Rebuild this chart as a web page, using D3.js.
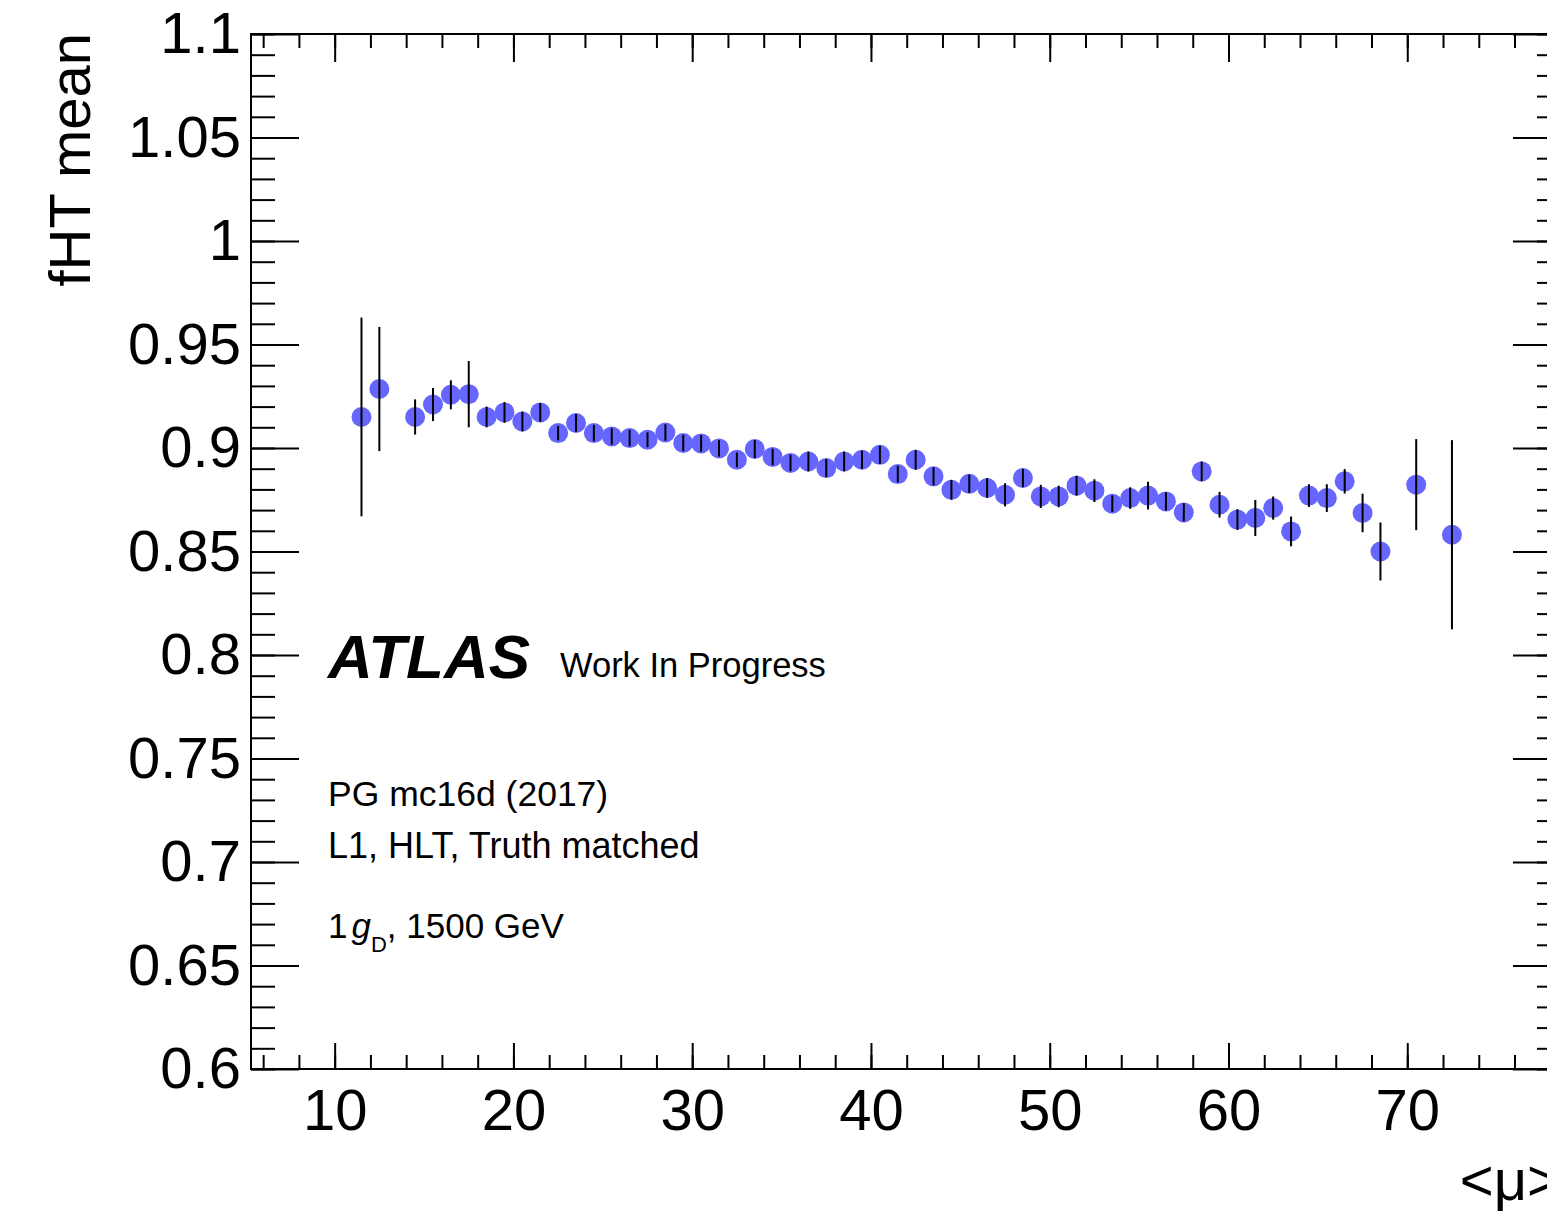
<!DOCTYPE html>
<html>
<head>
<meta charset="utf-8">
<script src="https://cdn.jsdelivr.net/npm/d3@7"></script>
<style>
  body { margin: 0; background: #fff; }
  text { font-family: "Liberation Sans", Arial, Helvetica, sans-serif; }
</style>
</head>
<body>
<div id="chart"></div>
<script>
// <mu> bin centres
var mu = [11.5, 12.5,
  14.5, 15.5, 16.5, 17.5, 18.5,
  19.5, 20.5, 21.5, 22.5, 23.5, 24.5, 25.5, 26.5, 27.5, 28.5,
  29.5, 30.5, 31.5, 32.5, 33.5, 34.5, 35.5, 36.5, 37.5, 38.5,
  39.5, 40.5, 41.5, 42.5, 43.5, 44.5, 45.5, 46.5, 47.5, 48.5,
  49.5, 50.5, 51.5, 52.5, 53.5, 54.5, 55.5, 56.5, 57.5, 58.5,
  59.5, 60.5, 61.5, 62.5, 63.5, 64.5, 65.5, 66.5, 67.5, 68.5,
  70.5, 72.5];

// fHT mean per bin
var fhtMean = [0.915, 0.9285,
  0.915, 0.921, 0.9257, 0.926, 0.915,
  0.9172, 0.9128, 0.9172, 0.9072, 0.9121, 0.9072, 0.9056, 0.9048, 0.904, 0.9075,
  0.9024, 0.9022, 0.8998, 0.8943, 0.8995, 0.8957, 0.8928, 0.8935, 0.8903, 0.8935,
  0.8943, 0.8967, 0.8874, 0.8943, 0.8863, 0.8798, 0.8827, 0.8807, 0.8774, 0.8855,
  0.8766, 0.8766, 0.8818, 0.8794, 0.8731, 0.8758, 0.877, 0.8742, 0.8689, 0.8887,
  0.8726, 0.8654, 0.8662, 0.871, 0.8597, 0.877, 0.8758, 0.8839, 0.8686, 0.85,
  0.8823, 0.8581];

// error on the mean
var fhtErr = [0.048, 0.030,
  0.0085, 0.008, 0.007, 0.016, 0.005,
  0.005, 0.0048, 0.0045, 0.0035, 0.0043, 0.004, 0.004, 0.004, 0.0036, 0.004,
  0.004, 0.004, 0.004, 0.0036, 0.0044, 0.004, 0.004, 0.0048, 0.0044, 0.0048,
  0.0044, 0.0044, 0.004, 0.0048, 0.0044, 0.0048, 0.0044, 0.0048, 0.0056, 0.0044,
  0.0056, 0.0052, 0.0048, 0.0055, 0.004, 0.0052, 0.0067, 0.0044, 0.0044, 0.0048,
  0.0062, 0.005, 0.0087, 0.0056, 0.0072, 0.0055, 0.0067, 0.0059, 0.0093, 0.014,
  0.022, 0.0457];

var xTickValues = [10, 20, 30, 40, 50, 60, 70];
var xTickLabels = ["10", "20", "30", "40", "50", "60", "70"];
var yTickValues = [0.6, 0.65, 0.7, 0.75, 0.8, 0.85, 0.9, 0.95, 1, 1.05, 1.1];
var yTickLabels = ["0.6", "0.65", "0.7", "0.75", "0.8", "0.85", "0.9", "0.95", "1", "1.05", "1.1"];

var W = 1547, H = 1215;
var frame = {left: 251, top: 34, right: 1561, bottom: 1069};

var x = d3.scaleLinear().domain([5.32, 78.6]).range([frame.left, frame.right]);
var y = d3.scaleLinear().domain([0.6, 1.1]).range([frame.bottom, frame.top]);

var svg = d3.select("#chart").append("svg")
    .attr("width", W)
    .attr("height", H);

var data = mu.map(function(m, i) {
  return {mu: m, v: fhtMean[i], e: fhtErr[i]};
});

// ROOT style ticks pointing into the frame
function styleAxis(g) {
  g.select(".domain").remove();
  g.selectAll("line").attr("stroke", "#000").attr("stroke-width", 2);
  g.attr("font-size", null).attr("font-family", null);
}

// bottom
svg.append("g")
    .attr("transform", "translate(0," + frame.bottom + ")")
    .call(d3.axisBottom(x).tickValues(x.ticks(40)).tickSize(-14).tickFormat(""))
    .call(styleAxis);

svg.append("g")
    .attr("transform", "translate(0," + frame.bottom + ")")
    .call(d3.axisBottom(x).tickValues(xTickValues).tickSize(-26).tickPadding(20)
      .tickFormat(function(d, i) { return xTickLabels[i]; }))
    .call(styleAxis)
    .selectAll("text")
      .style("font-size", "58px")
      .attr("fill", "#000");

// top
svg.append("g")
    .attr("transform", "translate(0," + frame.top + ")")
    .call(d3.axisTop(x).tickValues(x.ticks(40)).tickSize(-14).tickFormat(""))
    .call(styleAxis);

svg.append("g")
    .attr("transform", "translate(0," + frame.top + ")")
    .call(d3.axisTop(x).tickValues(xTickValues).tickSize(-28).tickFormat(""))
    .call(styleAxis);

// left
svg.append("g")
    .attr("transform", "translate(" + frame.left + ",0)")
    .call(d3.axisLeft(y).tickValues(y.ticks(50)).tickSize(-24).tickFormat(""))
    .call(styleAxis);

svg.append("g")
    .attr("transform", "translate(" + frame.left + ",0)")
    .call(d3.axisLeft(y).tickValues(yTickValues).tickSize(-48).tickPadding(10)
      .tickFormat(function(d, i) { return yTickLabels[i]; }))
    .call(styleAxis)
    .selectAll("text")
      .style("font-size", "58px")
      .attr("fill", "#000");

// right
svg.append("g")
    .attr("transform", "translate(" + frame.right + ",0)")
    .call(d3.axisRight(y).tickValues(y.ticks(50)).tickSize(-24).tickFormat(""))
    .call(styleAxis);

svg.append("g")
    .attr("transform", "translate(" + frame.right + ",0)")
    .call(d3.axisRight(y).tickValues(yTickValues).tickSize(-48).tickFormat(""))
    .call(styleAxis);

// frame
svg.append("rect")
    .attr("x", frame.left)
    .attr("y", frame.top)
    .attr("width", frame.right - frame.left)
    .attr("height", frame.bottom - frame.top)
    .attr("fill", "none")
    .attr("stroke", "#000")
    .attr("stroke-width", 2);

// markers
svg.append("g").selectAll("circle")
    .data(data)
  .enter().append("circle")
    .attr("cx", function(d) { return x(d.mu); })
    .attr("cy", function(d) { return y(d.v); })
    .attr("r", 10)
    .attr("fill", "#6666ff");

// error bars on top
svg.append("g").selectAll("line")
    .data(data)
  .enter().append("line")
    .attr("x1", function(d) { return x(d.mu); })
    .attr("x2", function(d) { return x(d.mu); })
    .attr("y1", function(d) { return y(d.v - d.e); })
    .attr("y2", function(d) { return y(d.v + d.e); })
    .attr("stroke", "#000")
    .attr("stroke-width", 2);

// axis titles
svg.append("text")
    .attr("transform", "translate(90," + (frame.top - 1) + ") rotate(-90)")
    .attr("text-anchor", "end")
    .style("font-size", "58px")
    .text("fHT mean");

svg.append("text")
    .attr("x", frame.right)
    .attr("y", 1200)
    .attr("text-anchor", "end")
    .style("font-size", "58px")
    .text("<\u03bc>");

// labels
svg.append("text")
    .attr("x", 328)
    .attr("y", 678)
    .style("font-size", "62px")
    .style("font-weight", "bold")
    .style("font-style", "italic")
    .text("ATLAS");

svg.append("text")
    .attr("x", 560)
    .attr("y", 677)
    .style("font-size", "34.5px")
    .text("Work In Progress");

svg.append("text")
    .attr("x", 328)
    .attr("y", 806)
    .style("font-size", "35.5px")
    .text("PG mc16d (2017)");

svg.append("text")
    .attr("x", 328)
    .attr("y", 858)
    .style("font-size", "36px")
    .text("L1, HLT, Truth matched");

var gd = svg.append("text")
    .attr("x", 328)
    .attr("y", 938)
    .style("font-size", "35px");
gd.append("tspan").text("1");
gd.append("tspan").attr("dx", 4).style("font-style", "italic").text("g");
gd.append("tspan").attr("dy", 14).style("font-size", "22px").text("D");
gd.append("tspan").attr("dy", -14).text(", 1500 GeV");
</script>
</body>
</html>
